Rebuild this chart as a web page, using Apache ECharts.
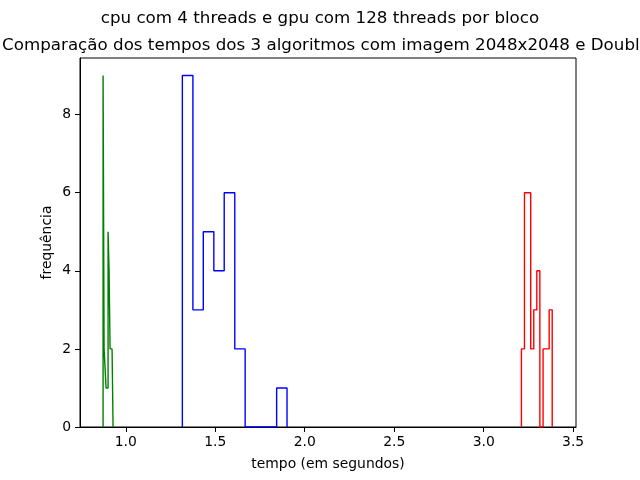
<!DOCTYPE html>
<html>
<head>
<meta charset="utf-8">
<script src="https://cdn.jsdelivr.net/npm/echarts@6/dist/echarts.min.js"></script>
<style>
  html, body { margin: 0; padding: 0; background: #fff; }
  #chart { width: 640px; height: 480px; }
</style>
</head>
<body>
<div id="chart"></div>
<script>
	// bordas das classes e contagens de cada histograma
	var greenEdges = [0.873, 0.8786, 0.8842, 0.8897, 0.8953, 0.9009, 0.9065, 0.9120, 0.9176, 0.9232, 0.9287];
	var greenCounts = [9, 2, 2, 1, 1, 5, 4, 2, 2, 2];
	var blueEdges = [1.316, 1.375, 1.433, 1.492, 1.550, 1.609, 1.667, 1.726, 1.784, 1.843, 1.901];
	var blueCounts = [9, 3, 5, 4, 6, 2, 0, 0, 0, 1];
	var redEdges = [3.211, 3.228, 3.245, 3.263, 3.280, 3.297, 3.314, 3.332, 3.349, 3.366, 3.383];
	var redCounts = [2, 6, 6, 2, 3, 4, 0, 2, 2, 3];

	var xTicks = [1.0, 1.5, 2.0, 2.5, 3.0, 3.5];
	var yTicks = [0, 2, 4, 6, 8];

	//contorno em degraus (histtype='step')
	function stepPoints(edges, counts){
		var pts = [[edges[0], 0]];
		for(var i = 0;i < counts.length;i++){
			pts.push([edges[i], counts[i]]);
			pts.push([edges[i+1], counts[i]]);
		}
		pts.push([edges[edges.length-1], 0]);
		return pts;
	}

	function histSeries(edges, counts, color){
		return {
			type: 'line',
			data: stepPoints(edges, counts),
			symbol: 'none',
			silent: true,
			lineStyle: { color: color, width: 1.4 },
			clip: true
		};
	}

	var font = 'DejaVu Sans';
	var chart = echarts.init(document.getElementById('chart'));
	var option = {
		animation: false,
		title: [{
			text: 'cpu com 4 threads e gpu com 128 threads por bloco',
			left: 315,
			top: 5,
			textAlign: 'center',
			textStyle: { fontFamily: font, fontSize: 16.7, fontWeight: 'normal', color: '#000' }
		}, {
			text: 'Comparação dos tempos dos 3 algoritmos com imagem 2048x2048 e Double',
			left: 321,
			top: 32,
			textAlign: 'center',
			textStyle: { fontFamily: font, fontSize: 16.7, fontWeight: 'normal', color: '#000' }
		}],
		grid: {
			left: 80, right: 64, top: 58, bottom: 53,
			show: true, borderColor: '#000', borderWidth: 1
		},
		xAxis: {
			type: 'value',
			min: 0.744,
			max: 3.516,
			name: 'tempo (em segundos)',
			nameLocation: 'middle',
			nameGap: 30,
			nameTextStyle: { fontFamily: font, fontSize: 13.9, color: '#000' },
			axisLine: { show: true, onZero: false, lineStyle: { color: '#000', width: 1 } },
			axisTick: { show: true, length: 5, customValues: xTicks, lineStyle: { color: '#000' } },
			axisLabel: {
				customValues: xTicks,
				fontFamily: font, fontSize: 13.9, color: '#000', margin: 8,
				formatter: function(v){ return v.toFixed(1); }
			},
			splitLine: { show: false }
		},
		yAxis: {
			type: 'value',
			min: 0,
			max: 9.45,
			name: 'frequência',
			nameLocation: 'middle',
			nameGap: 26,
			nameMoveOverlap: false,
			nameTextStyle: { fontFamily: font, fontSize: 13.9, color: '#000' },
			axisLine: { show: true, lineStyle: { color: '#000', width: 1 } },
			axisTick: { show: true, length: 5, customValues: yTicks, lineStyle: { color: '#000' } },
			axisLabel: {
				customValues: yTicks,
				fontFamily: font, fontSize: 13.9, color: '#000', margin: 9
			},
			splitLine: { show: false }
		},
		series: [
			histSeries(greenEdges, greenCounts, '#008000'),
			histSeries(blueEdges, blueCounts, '#0000ff'),
			histSeries(redEdges, redCounts, '#ff0000')
		]
	};
	chart.setOption(option);
</script>
</body>
</html>
